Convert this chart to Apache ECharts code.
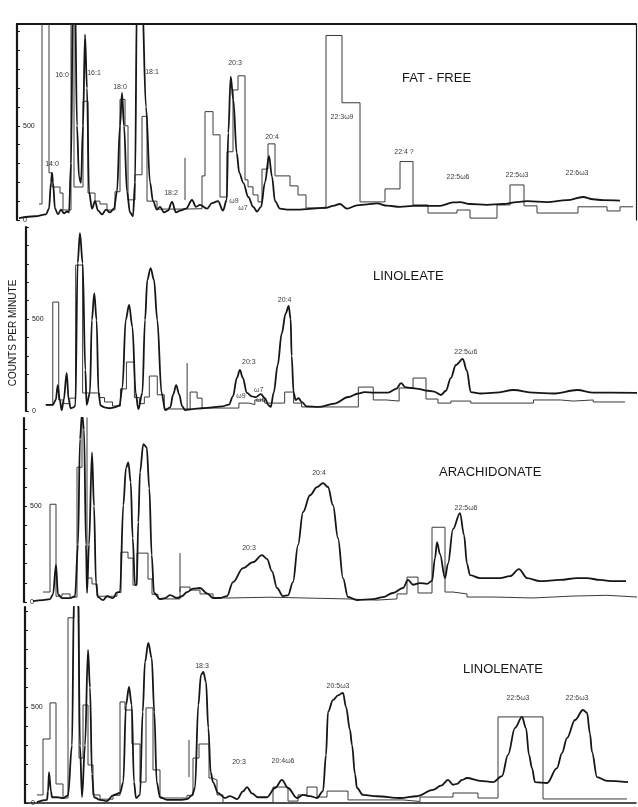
<!DOCTYPE html>
<html><head><meta charset="utf-8">
<script src="https://cdn.jsdelivr.net/npm/echarts@6/dist/echarts.min.js"></script>
<style>html,body{margin:0;padding:0;background:#fff}#c{width:638px;height:807px}</style>
</head><body><div id="c"></div>
<script>
// ---------------- DATA ----------------
const panelTitles = ['FAT - FREE', 'LINOLEATE', 'ARACHIDONATE', 'LINOLENATE'];
const yAxisTitle = 'COUNTS PER MINUTE';
const yLabelValues = [0, 500];
const yTickValues = [0, 100, 200, 300, 400, 500, 600, 700, 800, 900, 1000];
const yMax = [1040, 1000, 960, 1020];

// GC mass trace: [retention position, counts]
const fatFreeTrace = [[19,10],[35,20],[46,30],[49,60],[51,200],[52,250],[53,200],[55,60],[58,30],[61,55],[64,35],[67,45],[69,40],[71,300],[73,1200],[75,1200],[77,500],[79,230],[81,197],[83,500],[85,985],[87,700],[89,150],[92,60],[95,100],[98,50],[102,30],[106,55],[110,40],[114,60],[117,150],[120,500],[122,675],[124,500],[127,150],[130,40],[133,20],[135,200],[137,1200],[142,1200],[146,600],[150,200],[153,100],[157,55],[160,70],[164,40],[168,50],[172,96],[176,40],[180,50],[186,60],[192,106],[196,70],[200,80],[207,60],[212,90],[218,100],[223,50],[226.7,106],[228.3,463],[230.7,760],[233.3,638],[236.7,356],[239.3,250],[243.3,197],[248.3,122],[253.3,69],[257,45],[261,70],[265,200],[269,340],[272,230],[275,100],[280,60],[287,55],[300,55],[313,60],[326,65],[333,75],[340,85],[347,60],[357,78],[367,83],[377,88],[387,76],[400,70],[413,75],[427,75],[440,75],[453,93],[460,95],[470,85],[487,80],[503,85],[517,95],[527,100],[547,95],[567,105],[583,122],[593,110],[603,105],[620,103]];
const linoleateTrace = [[43,33],[50,33],[53,60],[55,141],[57,60],[59,5],[61,60],[64,207],[66,60],[68,15],[71,20],[72.7,31],[75,804],[77.3,967],[80,804],[82.7,223],[84,33],[87.3,98],[89.3,495],[91.7,641],[94,495],[96,98],[98,30],[102,20],[107,15],[112,20],[117,30],[120,130],[123.3,495],[126.7,576],[130,457],[133.3,98],[136,10],[140,98],[142.7,495],[145,712],[148.3,777],[151.7,712],[155,495],[159.3,98],[163,5],[168,20],[171,90],[174,141],[177,90],[180,25],[183,5],[190,10],[200,15],[210,20],[220,25],[227,35],[231,80],[235,180],[238,223],[241,180],[245,98],[250,80],[254,75],[259,92],[263,70],[267,30],[269,22],[272,100],[276,250],[280,420],[284,530],[287,571],[289,500],[290,300],[292,100],[294,60],[297,70],[300,50],[305,25],[317,22],[333,40],[347,76],[357,95],[363,103],[373,100],[387,100],[395,120],[400,152],[404,130],[410,125],[417,120],[427,110],[433,105],[440,87],[445,110],[450,180],[455,250],[462,283],[466,220],[470,103],[480,95],[495,100],[513,114],[533,100],[553,95],[577,114],[593,100],[637,98]];
const arachidonateTrace = [[33,5],[43,10],[50,15],[53,40],[56,193],[58,40],[62,20],[70,20],[75,30],[78,300],[80,850],[82,984],[84,900],[86,300],[87,47],[89,300],[92,781],[94,500],[96,100],[98,25],[103,10],[107,30],[113,20],[117,50],[120,52],[123.3,505],[126,698],[128.3,729],[130.7,625],[132.7,333],[135,89],[136.7,89],[138.3,417],[140,677],[143.3,823],[146.7,807],[149.3,594],[151.7,245],[154,47],[160,15],[165,20],[170,36],[177,21],[182,30],[187,52],[193,70],[200,73],[207,45],[213,21],[220,21],[227,31],[233,104],[243,177],[253,208],[262,245],[267,225],[272,160],[277,73],[283,31],[288,35],[293,104],[298,297],[303,469],[310,557],[317,599],[323,620],[328,600],[333,505],[338,333],[343,125],[348,26],[357,10],[373,15],[383,25],[393,47],[403,73],[408,115],[413,90],[420,99],[427,95],[432,110],[435,229],[437,312],[440,250],[445,125],[448,200],[453,380],[460,464],[464,350],[467,200],[470,140],[480,125],[500,125],[510,135],[519,172],[527,125],[540,109],[560,115],[577,125],[587,125],[600,115],[613,109],[626,109]];
const linolenateTrace = [[37,5],[47,16],[48,60],[49,161],[51,60],[52,30],[57,30],[63,25],[68,40],[72,300],[74,1100],[78,1100],[80,300],[82,31],[85,300],[88,797],[90,600],[92,150],[94,30],[100,16],[107,10],[113,40],[120,52],[123.3,109],[126,510],[129,604],[131.7,510],[134,109],[136,26],[140,42],[142.7,474],[145,734],[148.3,833],[151.7,755],[154.3,474],[156.7,109],[160,30],[167,16],[180,16],[187,20],[192,40],[195,78],[198.3,510],[201,667],[203.3,682],[206,630],[208.3,391],[210.7,161],[213,109],[218,52],[225,26],[230,36],[237,20],[243,60],[247,83],[252,50],[258,30],[267,30],[275,78],[282,120],[288,78],[297,26],[303,42],[310,36],[317,26],[323,62],[326,250],[328,474],[333,536],[338,560],[343,573],[346,500],[350,380],[352,302],[355,150],[357,78],[363,42],[377,35],[400,26],[417,35],[433,68],[441,90],[448,120],[453,95],[457,100],[462,120],[467,130],[480,115],[493,109],[502,140],[508,250],[515,391],[522,448],[526,390],[529,250],[532,182],[535,109],[547,104],[557,182],[562,260],[567,338],[575,432],[583,484],[587,470],[590,360],[592,266],[597,135],[607,115],[628,109]];

// Radioactivity histograms: [bin start, bin end, counts]
const fatFreeHist = [[39,42,85],[42,49,1200],[49,52,250],[52,60,175],[60,63,143],[63,71,53],[71,74,1200],[74,83,175],[83,88,630],[88,95,143],[95,100,100],[100,107,85],[107,115,53],[115,120,150],[120,125,640],[125,128,500],[128,135,107],[135,142,240],[142,147,550],[147,157,100],[157,185,58],[185,202,60],[202,205,234],[205,213,575],[213,220,452],[220,227,122],[227,233,362],[233,238,690],[238,245,765],[245,248,213],[248,253,176],[253,258,133],[258,262,96],[262,268,270],[268,275,404],[275,290,234],[290,298,181],[298,306,133],[306,326,64],[326,342,979],[342,360,622],[360,385,96],[385,400,165],[400,413,310],[413,428,80],[428,457,37],[457,470,53],[470,497,10],[497,510,80],[510,524,186],[524,537,75],[537,578,37],[578,607,70],[607,620,48],[620,633,70]];
const linoleateHist = [[43,50,33],[50,56,592],[56,61,60],[61,67,40],[67,73,70],[73,80,793],[80,97,98],[97,102,73],[102,110,49],[110,118,27],[118,124,120],[124,132,266],[132,137,73],[137,142,40],[142,147,76],[147,155,190],[155,162,88],[162,188,11],[188,195,103],[195,200,70],[200,237,16],[237,247,43],[247,253,35],[253,263,60],[263,283,43],[283,292,103],[292,300,43],[300,357,22],[357,372,130],[372,385,60],[385,398,54],[398,412,125],[412,425,179],[425,437,65],[437,450,43],[450,470,54],[470,533,43],[533,560,60],[560,573,54],[573,593,60],[593,625,49]];
const arachidonateHist = [[43,50,52],[50,56,510],[56,62,30],[62,70,42],[70,77,25],[77,82,703],[82,87,979],[87,92,125],[92,97,94],[97,117,30],[117,121,50],[121,128,260],[128,133,229],[133,137,88],[137,148,255],[148,152,120],[152,158,40],[158,180,16],[180,190,78],[190,200,62],[200,213,42],[213,230,21],[230,270,25],[270,347,16],[347,377,10],[377,397,16],[397,407,42],[407,418,130],[418,432,47],[432,445,390],[445,453,52],[453,467,42],[467,493,26],[493,533,21],[533,573,31],[573,607,35],[607,637,26]];
const linolenateHist = [[37,43,42],[43,50,333],[50,56,521],[56,63,99],[63,68,26],[68,74,964],[74,79,1100],[79,83,234],[83,88,510],[88,93,198],[93,100,42],[100,113,20],[113,120,40],[120,125,526],[125,132,484],[132,140,307],[140,146,109],[146,153,495],[153,160,172],[160,187,26],[187,193,40],[193,199,234],[199,209,307],[209,212,130],[212,217,120],[217,223,42],[223,273,2],[273,288,83],[288,298,10],[298,307,42],[307,317,83],[317,327,31],[327,348,62],[348,403,16],[403,420,8],[420,453,31],[453,478,52],[478,498,26],[498,543,448],[543,627,21]];

// vertical marker strokes: [position, counts top, counts bottom]
const markers = [[185,330,106],[185,260,5],[180,255,52],[189,328,135]];

// peak labels: [position, counts, text]
const fatFreeLabels = [[52,297,'14:0'],[62,769,'16:0'],[94,780,'16:1'],[120,706,'18:0'],[152,785,'18:1'],[171,143,'18:2'],[235,833,'20:3'],[234,101,'ω9'],[243,64,'ω7'],[272,440,'20:4'],[342,546,'22:3ω9'],[404,361,'22:4 ?'],[458,228,'22:5ω6'],[517,239,'22:5ω3'],[577,249,'22:6ω3']];
const linoleateLabels = [[247,266,'20:3'],[239,82,'ω9'],[257,114,'ω7'],[259,58,'ω6'],[283,603,'20:4'],[465,321,'22:5ω6']];
const arachidonateLabels = [[249,282,'20:3'],[319,673,'20:4'],[466,490,'22:5ω6']];
const linolenateLabels = [[202,713,'18:3'],[239,213,'20:3'],[283,218,'20:4ω6'],[338,609,'20:5ω3'],[518,546,'22:5ω3'],[577,546,'22:6ω3']];

// ---------------- LAYOUT ----------------
const traces = [fatFreeTrace, linoleateTrace, arachidonateTrace, linolenateTrace];
const hists = [fatFreeHist, linoleateHist, arachidonateHist, linolenateHist];
const labels = [fatFreeLabels, linoleateLabels, arachidonateLabels, linolenateLabels];
const gLeft = [17, 23, 24, 25];
const gTop = [24, 227, 418, 607];
const gZeroY = [220, 411, 602, 803];
const xEnd = 636;
const titlePos = [[402, 72], [373, 270], [439, 466], [463, 663]];
const FONT = '"Liberation Sans", "DejaVu Sans", sans-serif';
const INK = '#161616';

function histPoints(h) {
  const pts = h.map(s => [s[0], s[2]]);
  const last = h[h.length - 1];
  pts.push([last[1], last[2]]);
  return pts;
}

const grid = [], xAxis = [], yAxis = [], series = [], title = [];
for (let i = 0; i < 4; i++) {
  grid.push({ left: gLeft[i], right: 638 - xEnd, top: gTop[i], bottom: 807 - gZeroY[i] });
  xAxis.push({
    type: 'value', gridIndex: i, min: gLeft[i], max: xEnd,
    axisLine: { show: i === 3, onZero: false, lineStyle: { color: INK, width: 1.5 } },
    axisTick: { show: false }, axisLabel: { show: false }, splitLine: { show: false }
  });
  yAxis.push({
    type: 'value', gridIndex: i, min: 0, max: yMax[i],
    name: i === 1 ? yAxisTitle : '', nameLocation: 'middle', nameGap: 3, nameRotate: 90,
    nameTextStyle: { fontFamily: FONT, fontSize: 10, color: INK, padding: [0, 28, 0, 0] },
    axisLine: { show: true, lineStyle: { color: INK, width: 2.2 } },
    axisTick: { show: true, inside: true, length: 3, customValues: yTickValues.filter(v => v <= yMax[i]), lineStyle: { color: INK, width: 1 } },
    axisLabel: { show: true, inside: true, margin: 6, customValues: yLabelValues, fontFamily: FONT, fontSize: 7, color: INK },
    splitLine: { show: false }
  });
  series.push({
    type: 'line', xAxisIndex: i, yAxisIndex: i, data: histPoints(hists[i]), step: 'end',
    symbol: 'none', clip: true, lineStyle: { color: '#3a3a3a', width: 1 }, z: 2
  });
  series.push({
    type: 'line', xAxisIndex: i, yAxisIndex: i, data: traces[i], smooth: 0.35, smoothMonotone: 'x',
    symbol: 'none', clip: true, lineStyle: { color: INK, width: 1.8 }, z: 3
  });
  series.push({
    type: 'line', xAxisIndex: i, yAxisIndex: i, data: [[markers[i][0], markers[i][1]], [markers[i][0], markers[i][2]]],
    symbol: 'none', lineStyle: { color: '#3a3a3a', width: 1 }, z: 2
  });
  series.push({
    type: 'scatter', xAxisIndex: i, yAxisIndex: i, data: labels[i], symbolSize: 1,
    itemStyle: { color: 'rgba(0,0,0,0)' }, silent: true, z: 4,
    label: { show: true, position: 'inside', formatter: p => p.data[2], fontFamily: FONT, fontSize: 7, color: '#000' }
  });
  title.push({
    text: panelTitles[i], left: titlePos[i][0], top: titlePos[i][1], padding: 0,
    textStyle: { fontFamily: FONT, fontSize: 13, fontWeight: 'normal', color: INK }
  });
}
// frame of the first panel: top and right border lines
xAxis.push({ type: 'value', gridIndex: 0, position: 'top', min: gLeft[0], max: xEnd,
  axisLine: { show: true, onZero: false, lineStyle: { color: INK, width: 1.8 } },
  axisTick: { show: false }, axisLabel: { show: false }, splitLine: { show: false } });
yAxis.push({ type: 'value', gridIndex: 0, position: 'right', min: 0, max: yMax[0],
  axisLine: { show: true, onZero: false, lineStyle: { color: INK, width: 1.2 } },
  axisTick: { show: false }, axisLabel: { show: false }, splitLine: { show: false } });

const chart = echarts.init(document.getElementById('c'), null, { renderer: 'canvas' });
chart.setOption({ animation: false, backgroundColor: '#fff', title, grid, xAxis, yAxis, series });
</script>
</body></html>
